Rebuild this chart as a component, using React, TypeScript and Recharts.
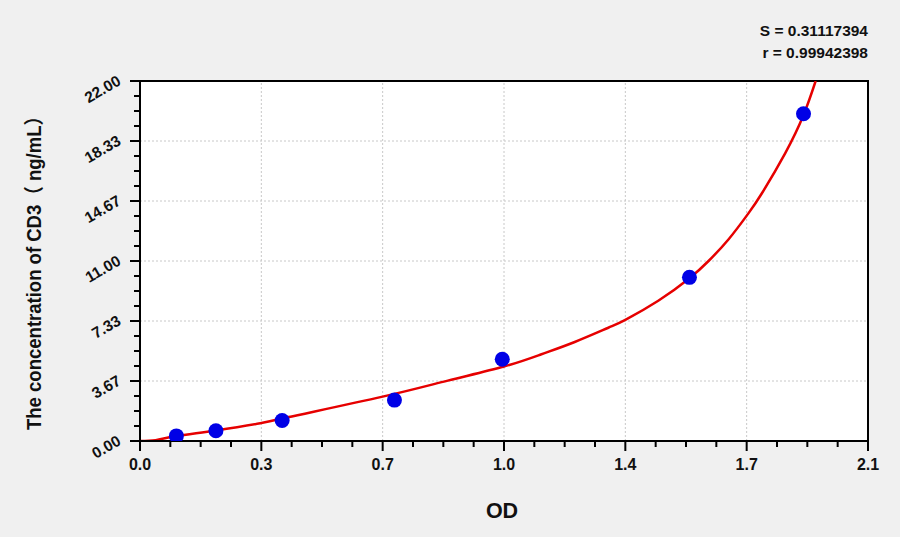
import React from "react";
import {
  ComposedChart,
  Line,
  Scatter,
  XAxis,
  YAxis,
  CartesianGrid,
  ReferenceLine,
  ReferenceArea,
} from "recharts";

// standard points (OD vs concentration, ng/mL)
const standardOD = [0.105, 0.219, 0.41, 0.734, 1.045, 1.585, 1.914];
const standardConc = [0.3125, 0.625, 1.25, 2.5, 5, 10, 20];

// fitted curve
const curveOD = [
  0, 0.045, 0.105, 0.219, 0.347, 0.426, 0.7, 0.888, 1.05, 1.158, 1.254, 1.351,
  1.4, 1.495, 1.585, 1.64, 1.698, 1.755, 1.794, 1.861, 1.914, 1.949,
];
const curveConc = [
  0, 0.05, 0.3, 0.64, 1.08, 1.45, 2.71, 3.69, 4.55, 5.3, 6.05, 6.92, 7.4, 8.57,
  9.94, 11.0, 12.33, 13.91, 15.14, 17.58, 19.92, 22.0,
];

const xMajorTicks = [0, 0.35, 0.7, 1.05, 1.4, 1.75, 2.1];
const xTickLabels = ["0.0", "0.3", "0.7", "1.0", "1.4", "1.7", "2.1"];
const yMajorTicks = [0, 22 / 6, 44 / 6, 11, 88 / 6, 110 / 6, 22];
const yTickLabels = ["0.00", "3.67", "7.33", "11.00", "14.67", "18.33", "22.00"];

const sText = "S = 0.31117394";
const rText = "r = 0.99942398";
const yTitle = "The concentration of  CD3（ ng/mL）";
const xTitle = "OD";

// 3 minor ticks between each pair of majors
function withMinors(majors: number[]) {
  const out: number[] = [];
  for (let i = 0; i < majors.length - 1; i++) {
    const a = majors[i];
    const d = (majors[i + 1] - a) / 4;
    out.push(a, a + d, a + 2 * d, a + 3 * d);
  }
  out.push(majors[majors.length - 1]);
  return out;
}

const xTicks = withMinors(xMajorTicks);
const yTicks = withMinors(yMajorTicks);

const FONT = "Arial, 'Liberation Sans', 'Noto Sans CJK SC', sans-serif";
const INK = "#111";

function XTick(props: any) {
  const { x, y, index } = props;
  const major = index % 4 === 0;
  return (
    <g>
      <line x1={x} y1={y} x2={x} y2={y + (major ? 10 : 6)} stroke="#000" strokeWidth={2} />
      {major && (
        <text
          x={x}
          y={y + 29}
          textAnchor="middle"
          fontSize={16}
          fontWeight="bold"
          fontFamily={FONT}
          fill={INK}
        >
          {xTickLabels[index / 4]}
        </text>
      )}
    </g>
  );
}

function YTick(props: any) {
  const { x, y, index } = props;
  const major = index % 4 === 0;
  const tx = x - 18;
  const ty = y + 3;
  return (
    <g>
      <line x1={x} y1={y} x2={x - (major ? 10 : 6)} y2={y} stroke="#000" strokeWidth={2} />
      {major && (
        <text
          x={tx}
          y={ty}
          textAnchor="end"
          transform={`rotate(-30, ${tx}, ${ty})`}
          fontSize={15.5}
          fontWeight="bold"
          fontFamily={FONT}
          fill={INK}
        >
          {yTickLabels[index / 4]}
        </text>
      )}
    </g>
  );
}

export default function App() {
  const points = standardOD.map((od, i) => ({ od, conc: standardConc[i] }));
  const curve = curveOD.map((od, i) => ({ od, conc: curveConc[i] }));

  return (
    <div
      style={{
        position: "absolute",
        left: 0,
        top: 0,
        width: 900,
        height: 537,
        background: "#f0f0f0",
        fontFamily: FONT,
      }}
    >
      <ComposedChart
        width={900}
        height={537}
        margin={{ top: 81, right: 32, bottom: 66, left: 80 }}
      >
        <CartesianGrid fill="#fff" fillOpacity={1} horizontal={false} vertical={false} />
        <XAxis
          type="number"
          dataKey="od"
          domain={[0, 2.1]}
          ticks={xTicks}
          interval={0}
          allowDataOverflow
          height={30}
          tickSize={0}
          tickMargin={0}
          tickLine={false}
          axisLine={{ stroke: "#000", strokeWidth: 2 }}
          tick={<XTick />}
        />
        <YAxis
          type="number"
          dataKey="conc"
          domain={[0, 22]}
          ticks={yTicks}
          interval={0}
          allowDataOverflow
          width={60}
          tickSize={0}
          tickMargin={0}
          tickLine={false}
          axisLine={{ stroke: "#000", strokeWidth: 2 }}
          tick={<YTick />}
        />
        {xMajorTicks.slice(1, -1).map((v) => (
          <ReferenceLine
            key={`gx-${v}`}
            x={v}
            stroke="#c8c8c8"
            strokeDasharray="2 2"
            strokeWidth={1}
          />
        ))}
        {yMajorTicks.slice(1, -1).map((v) => (
          <ReferenceLine
            key={`gy-${v}`}
            y={v}
            stroke="#c8c8c8"
            strokeDasharray="2 2"
            strokeWidth={1}
          />
        ))}
        <ReferenceArea
          x1={0}
          x2={2.1}
          y1={0}
          y2={22}
          fill="none"
          stroke="#000"
          strokeWidth={2}
        />
        <Scatter
          data={points}
          dataKey="conc"
          isAnimationActive={false}
          shape={(p: any) => <circle cx={p.cx} cy={p.cy} r={7.5} fill="#0000e6" />}
        />
        <Line
          data={curve}
          dataKey="conc"
          type="natural"
          dot={false}
          stroke="#e60000"
          strokeWidth={2.5}
          isAnimationActive={false}
        />
      </ComposedChart>
      <svg
        width={900}
        height={537}
        style={{ position: "absolute", left: 0, top: 0, pointerEvents: "none" }}
      >
        <text x={868} y={36} textAnchor="end" fontSize={15.5} fontWeight="bold" fontFamily={FONT} fill={INK}>
          {sText}
        </text>
        <text x={868} y={57.5} textAnchor="end" fontSize={15.5} fontWeight="bold" fontFamily={FONT} fill={INK}>
          {rText}
        </text>
        <text
          transform="translate(41, 268.5) rotate(-90)"
          textAnchor="middle"
          fontSize={20}
          fontWeight="bold"
          fontFamily={FONT}
          fill={INK}
          textLength={323}
          lengthAdjust="spacingAndGlyphs"
        >
          {yTitle}
        </text>
        <text x={502} y={517.5} textAnchor="middle" fontSize={21.5} fontWeight="bold" fontFamily={FONT} fill={INK}>
          {xTitle}
        </text>
      </svg>
    </div>
  );
}
